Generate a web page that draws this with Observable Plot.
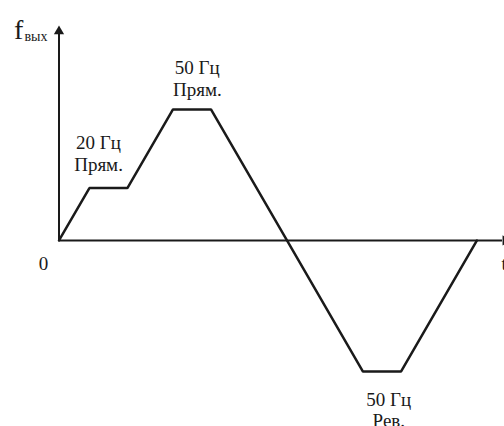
<!DOCTYPE html>
<html>
<head>
<meta charset="utf-8">
<script src="https://cdn.jsdelivr.net/npm/d3@7"></script>
<script src="https://cdn.jsdelivr.net/npm/@observablehq/plot@0.6"></script>
<style>
  html, body { margin: 0; padding: 0; background: #fff; overflow: hidden; }
</style>
</head>
<body>
<div id="chart"></div>
<script>
// Profile of output frequency vs time (arbitrary time units, frequency in Hz)
const times = [0, 4, 9, 15, 20, 30, 40, 45, 55];
const freqs = [0, 20, 20, 50, 50, 0, -50, -50, 0];

// Annotation labels (text, anchor time, anchor frequency of last line baseline)
const labelText = ["20 Гц\nПрям.", "50 Гц\nПрям.", "50 Гц\nРев."];
const labelT = [5.2, 18.2, 43.4];
const labelF = [26.4, 55.1, -71.3];

// Axis extents
const tMax = 58.36;
const fTop = 82;
const fBottom = -70;

const profile = times.map((t, i) => ({t, f: freqs[i]}));
const labels = labelText.map((text, i) => ({text, t: labelT[i], f: labelF[i]}));

const ink = "#1a1a1a";

const chart = Plot.plot({
  width: 504,
  height: 426,
  marginLeft: 58.5,
  marginRight: 2,
  marginTop: 25,
  marginBottom: 2.5,
  x: {domain: [0, tMax], axis: null},
  y: {domain: [fBottom, fTop], axis: null},
  style: {fontFamily: "'Liberation Serif', 'DejaVu Serif', serif", fontSize: "19px", background: "#fff", overflow: "visible", color: ink},
  marks: [
    // x axis
    Plot.ruleY([0], {x1: 0, x2: tMax, stroke: ink, strokeWidth: 2}),
    // y axis
    Plot.ruleX([0], {y1: 0, y2: fTop - 3, stroke: ink, strokeWidth: 2}),
    // arrowheads
    Plot.dot([0], {x: 0, y: fTop, dy: 5.8, symbol: "triangle", r: 3.8, fill: ink, stroke: "none"}),
    Plot.dot([0], {x: tMax, y: 0, dx: 3, symbol: "triangle", r: 3.8, fill: ink, stroke: "none", rotate: 90}),
    // profile
    Plot.line(profile, {x: "t", y: "f", stroke: ink, strokeWidth: 2.5, strokeLinejoin: "miter"}),
    // labels
    Plot.text(labels, {x: "t", y: "f", text: "text", textAnchor: "middle", lineAnchor: "bottom", lineHeight: 1.15, fill: ink, fontSize: 19}),
    // axis labels
    Plot.text(["0"], {x: 0, y: 0, text: d => d, dx: -15.5, dy: 30, textAnchor: "middle", lineAnchor: "bottom", fill: ink, fontSize: 19}),
    Plot.text(["t"], {x: tMax, y: 0, text: d => d, dx: -1, dy: 30, textAnchor: "start", lineAnchor: "bottom", fill: ink, fontSize: 19}),
    Plot.text(["f"], {x: 0, y: fTop, text: d => d, dx: -45, dy: 13, textAnchor: "start", lineAnchor: "bottom", fill: ink, fontSize: 28}),
    Plot.text(["вых"], {x: 0, y: fTop, text: d => d, dx: -34.5, dy: 15, textAnchor: "start", lineAnchor: "bottom", fill: ink, fontSize: 14})
  ]
});

document.getElementById("chart").appendChild(chart);
</script>
</body>
</html>
